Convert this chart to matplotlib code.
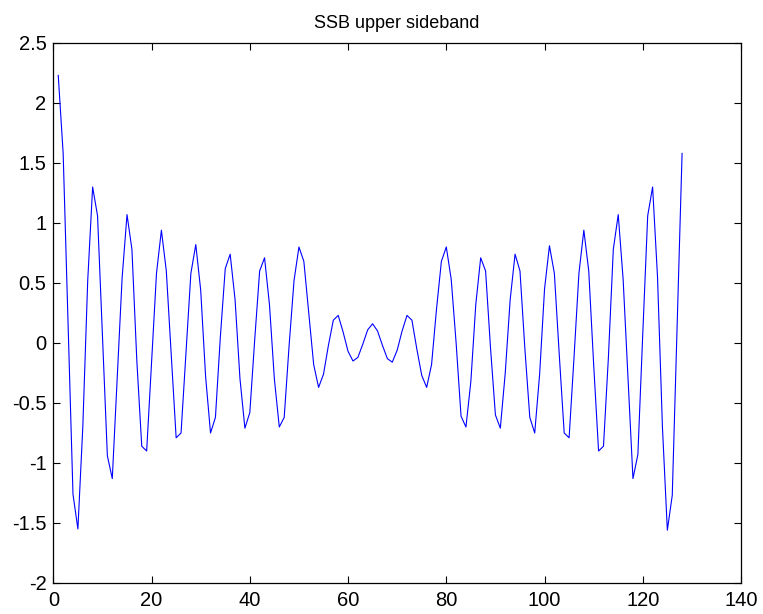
import matplotlib
matplotlib.use("Agg")
import matplotlib.pyplot as plt
from matplotlib.ticker import FuncFormatter

plt.rcParams['font.family'] = ['Liberation Sans', 'DejaVu Sans']
plt.rcParams['axes.unicode_minus'] = False

sample_index = list(range(1, 129))
ssb_values = [
    2.23, 1.58, 0.15, -1.26, -1.55, -0.70, 0.52, 1.30, 1.06, 0.06,
    -0.94, -1.13, -0.30, 0.54, 1.07, 0.78, -0.15, -0.86, -0.90, -0.16,
    0.58, 0.94, 0.60, -0.10, -0.79, -0.75, -0.08, 0.58, 0.82, 0.44,
    -0.28, -0.75, -0.62, 0.05, 0.62, 0.74, 0.36, -0.30, -0.71, -0.58,
    0.03, 0.60, 0.71, 0.32, -0.30, -0.70, -0.62, -0.02, 0.52, 0.80,
    0.68, 0.25, -0.18, -0.37, -0.26, -0.02, 0.19, 0.23, 0.09, -0.07,
    -0.15, -0.12, -0.01, 0.11, 0.16, 0.10, -0.02, -0.13, -0.16, -0.06,
    0.10, 0.23, 0.19, -0.05, -0.27, -0.37, -0.18, 0.28, 0.68, 0.80,
    0.53, 0.00, -0.61, -0.70, -0.32, 0.32, 0.71, 0.60, -0.04, -0.60,
    -0.71, -0.25, 0.36, 0.74, 0.60, -0.05, -0.62, -0.75, -0.26, 0.45,
    0.81, 0.58, -0.10, -0.75, -0.79, -0.12, 0.58, 0.94, 0.60, -0.18,
    -0.90, -0.86, -0.12, 0.78, 1.07, 0.53, -0.30, -1.13, -0.93, 0.08,
    1.06, 1.30, 0.55, -0.70, -1.56, -1.27, 0.16, 1.58,
]
x_ticks = [0, 20, 40, 60, 80, 100, 120, 140]
y_ticks = [-2, -1.5, -1, -0.5, 0, 0.5, 1, 1.5, 2, 2.5]
title_text = "SSB upper sideband"

fig = plt.figure(figsize=(7.63, 6.14), dpi=100)
ax = fig.add_axes([0.0699, 0.0505, 0.9013, 0.8795])
ax.plot(sample_index, ssb_values, color=(0, 0, 1), linewidth=0.8)
ax.set_xlim(0, 140)
ax.set_ylim(-2, 2.5)
ax.set_xticks(x_ticks)
ax.set_yticks(y_ticks)
ax.yaxis.set_major_formatter(FuncFormatter(lambda v, p: '%g' % v))
ax.tick_params(direction='in', length=5, width=0.8, top=True, right=True,
               labelsize=14.5, colors='black')
ax.tick_params(axis='y', pad=5)
ax.tick_params(axis='x', pad=6)
for s in ax.spines.values():
    s.set_linewidth(0.9)
ax.set_title(title_text, fontsize=13, pad=11)
fig.savefig("out.png", dpi=100, facecolor='white')
